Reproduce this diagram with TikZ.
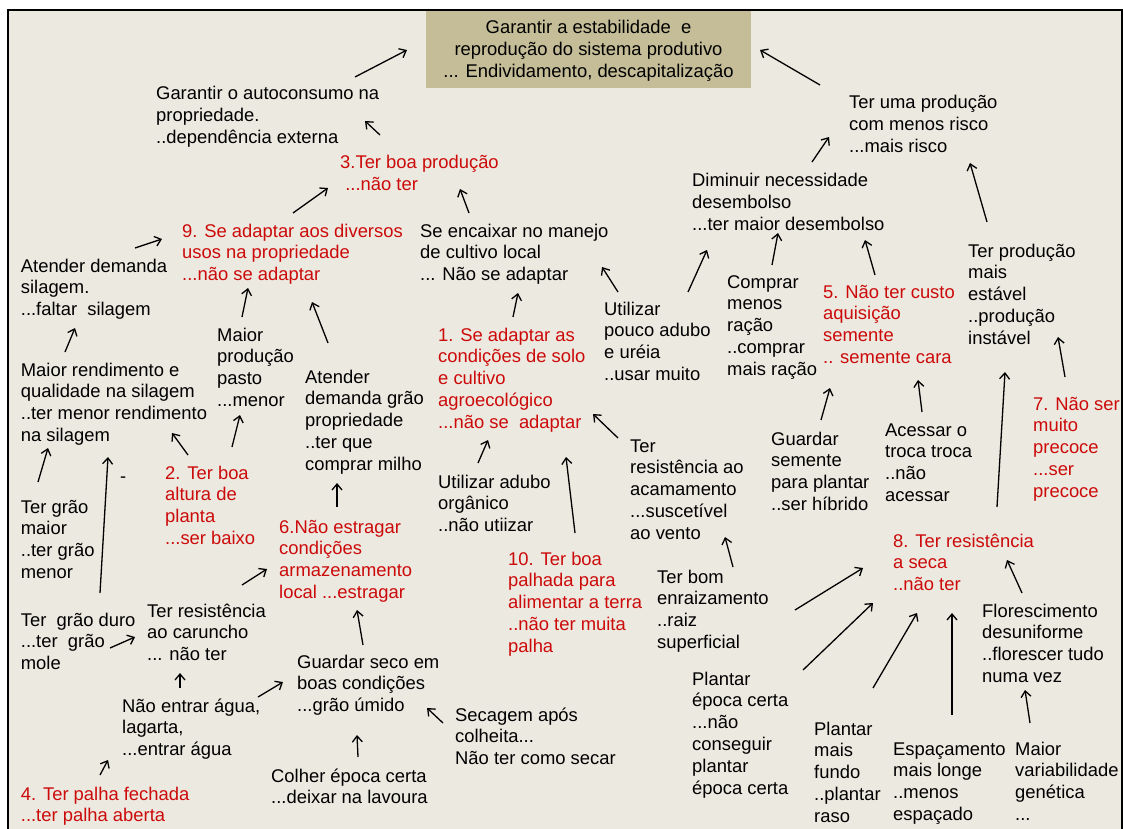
\documentclass[tikz,border=0pt]{standalone}
\usepackage{fontspec}
\setmainfont{Liberation Sans}
\usetikzlibrary{arrows.meta}
\definecolor{bgc}{RGB}{236,233,224}
\definecolor{boxc}{RGB}{196,189,151}
\definecolor{redc}{RGB}{204,10,10}
\newcommand\tstrut{\rule{0pt}{15.8pt}}
\newcommand\fs{\fontsize{18.4}{21.8}\selectfont}
\begin{document}
\begin{tikzpicture}[x=1pt,y=-1pt,
 lb/.style={anchor=north west, inner sep=0pt, align=left, font=\fs},
 rd/.style={lb, text=redc},
 arr/.style={line width=1.3pt, -{Straight Barb[length=6pt,width=10pt]}}]
\useasboundingbox (0,0) rectangle (1124,829);
\fill[white] (0,0) rectangle (1124,829);
\fill[bgc] (7.5,10) rectangle (1122,829);
\draw[line width=2pt] (7.5,829) -- (7.5,10) -- (1122,10) -- (1122,829);

\node[fill=boxc, minimum width=325pt, minimum height=77pt, inner sep=0pt, align=center, font=\fs] (T) at (588.5,49.5)
 {\rule{0pt}{16pt}Garantir a estabilidade\ \ e\\reprodução do sistema produtivo\\... Endividamento, descapitalização};

\node[lb] (A1) at (156,83.5) {\tstrut Garantir o autoconsumo na\\propriedade.\\..dependência externa};
\node[rd] (A3) at (340,153) {\tstrut 3.Ter boa produção\\\ ...não ter};
\node[rd] (A9) at (182,221) {\tstrut 9. Se adaptar aos diversos\\usos na propriedade\\...não se adaptar};
\node[lb] (Asil) at (20.7,256) {\tstrut Atender demanda\\silagem.\\...faltar\ \ silagem};
\node[lb] (Aenc) at (420,221) {\tstrut Se encaixar no manejo\\de cultivo local\\... Não se adaptar};
\node[lb] (Adim) at (692,171) {\tstrut Diminuir necessidade\\desembolso\\...ter maior desembolso};
\node[lb] (Arisco) at (849,93) {\tstrut Ter uma produção\\com menos risco\\...mais risco};
\node[lb] (Aest) at (968,241) {\tstrut Ter produção\\mais\\estável\\..produção\\instável};
\node[lb] (Arend) at (20.7,360) {\tstrut Maior rendimento e\\qualidade na silagem\\..ter menor rendimento\\na silagem};
\node[lb] (Apasto) at (217,325) {\tstrut Maior\\produção\\pasto\\...menor};
\node[lb] (Agrao) at (305,367) {\tstrut Atender\\demanda grão\\propriedade\\..ter que\\comprar milho};
\node[rd] (A1n) at (438,325) {\tstrut 1. Se adaptar as\\condições de solo\\e cultivo\\agroecológico\\...não se\ \ adaptar};
\node[lb] (Apouco) at (604,299) {\tstrut Utilizar\\pouco adubo\\e uréia\\..usar muito};
\node[lb] (Acomp) at (727,272) {\tstrut Comprar\\menos\\ração\\..comprar\\mais ração};
\node[rd] (A5) at (823,282) {\tstrut 5. Não ter custo\\aquisição\\semente\\.. semente cara};
\node[rd] (A2) at (165,463) {\tstrut 2. Ter boa\\altura de\\planta\\...ser baixo};
\node[lb] (Agmaior) at (20.7,497) {\tstrut Ter grão\\maior\\..ter grão\\menor};
\node[lb] (Adash) at (120,466.5) {\tstrut -};
\node[rd] (A6) at (279,517) {\tstrut 6.Não estragar\\condições\\armazenamento\\local ...estragar};
\node[lb] (Aorg) at (438,472) {\tstrut Utilizar adubo\\orgânico\\..não utiizar};
\node[lb] (Aacam) at (630,436) {\tstrut Ter\\resistência ao\\acamamento\\...suscetível\\ao vento};
\node[lb] (Aguard) at (771,429) {\tstrut Guardar\\semente\\para plantar\\..ser híbrido};
\node[lb] (Atroca) at (885,420) {\tstrut Acessar o\\troca troca\\..não\\acessar};
\node[rd] (A7) at (1033,394) {\tstrut 7. Não ser\\muito\\precoce\\...ser\\precoce};
\node[rd] (A8) at (893,531) {\tstrut 8. Ter resistência\\a seca\\..não ter};
\node[lb] (Aduro) at (20.7,610) {\tstrut Ter\ \ grão duro\\...ter\ \ grão\\mole};
\node[lb] (Acar) at (147,601) {\tstrut Ter resistência\\ao caruncho\\... não ter};
\node[lb] (Aagua) at (122,696) {\tstrut Não entrar água,\\lagarta,\\...entrar água};
\node[lb] (Aseco) at (297,652) {\tstrut Guardar seco em\\boas condições\\...grão úmido};
\node[lb] (Acolher) at (271,766) {\tstrut Colher época certa\\...deixar na lavoura};
\node[rd] (A4) at (20.7,784) {\tstrut 4. Ter palha fechada\\...ter palha aberta};
\node[rd] (A10) at (508,549) {\tstrut 10. Ter boa\\palhada para\\alimentar a terra\\..não ter muita\\palha};
\node[lb] (Abom) at (657,567) {\tstrut Ter bom\\enraizamento\\..raiz\\superficial};
\node[lb] (Asecagem) at (455,705) {\tstrut Secagem após\\colheita...\\Não ter como secar};
\node[lb] (Aepoca) at (692,669) {\tstrut Plantar\\época certa\\...não\\conseguir\\plantar\\época certa};
\node[lb] (Aflor) at (982,601) {\tstrut Florescimento\\desuniforme\\..florescer tudo\\numa vez};
\node[lb] (Afundo) at (814,719) {\tstrut Plantar\\mais\\fundo\\..plantar\\raso};
\node[lb] (Aesp) at (893,739) {\tstrut Espaçamento\\mais longe\\..menos\\espaçado};
\node[lb] (Avar) at (1015,739) {\tstrut Maior\\variabilidade\\genética\\...};

\draw[arr] ([shift={(355-156,77-83.5)}]A1.north west) -- ([shift={(407-588.5,50-49.5)}]T.center);
\draw[arr] ([shift={(380-340,135-153)}]A3.north west) -- ([shift={(365-156,121-83.5)}]A1.north west);
\draw[arr] ([shift={(293-182,213-221)}]A9.north west) -- ([shift={(328-340,188-153)}]A3.north west);
\draw[arr] ([shift={(135-20.7,248-256)}]Asil.north west) -- ([shift={(162-182,239-221)}]A9.north west);
\draw[arr] ([shift={(469-420,213-221)}]Aenc.north west) -- ([shift={(460-340,189-153)}]A3.north west);
\draw[arr] ([shift={(618-604,292-299)}]Apouco.north west) -- ([shift={(602-420,267-221)}]Aenc.north west);
\draw[arr] ([shift={(688-604,292-299)}]Apouco.north west) -- ([shift={(707-692,250-171)}]Adim.north west);
\draw[arr] ([shift={(820-849,85-93)}]Arisco.north west) -- ([shift={(760-588.5,50-49.5)}]T.center);
\draw[arr] ([shift={(812-692,162-171)}]Adim.north west) -- ([shift={(829-849,137-93)}]Arisco.north west);
\draw[arr] ([shift={(987-968,222-241)}]Aest.north west) -- ([shift={(970-849,163-93)}]Arisco.north west);
\draw[arr] ([shift={(772-727,265-272)}]Acomp.north west) -- ([shift={(778-692,233-171)}]Adim.north west);
\draw[arr] ([shift={(875-823,275-282)}]A5.north west) -- ([shift={(865-692,240-171)}]Adim.north west);
\draw[arr] ([shift={(65-20.7,352-360)}]Arend.north west) -- ([shift={(75-20.7,328-256)}]Asil.north west);
\draw[arr] ([shift={(242-217,317-325)}]Apasto.north west) -- ([shift={(248-182,288-221)}]A9.north west);
\draw[arr] ([shift={(328-305,343-367)}]Agrao.north west) -- ([shift={(312-182,302-221)}]A9.north west);
\draw[arr] ([shift={(38-20.7,482-497)}]Agmaior.north west) -- ([shift={(48-20.7,448-360)}]Arend.north west);
\draw[arr] ([shift={(100-20.7,593-610)}]Aduro.north west) -- ([shift={(108-20.7,457-360)}]Arend.north west);
\draw[arr] ([shift={(188-165,455-463)}]A2.north west) -- ([shift={(172-20.7,433-360)}]Arend.north west);
\draw[arr] ([shift={(232-165,447-463)}]A2.north west) -- ([shift={(240-217,415-325)}]Apasto.north west);
\draw[arr] ([shift={(337-279,507-517)}]A6.north west) -- ([shift={(337-305,483-367)}]Agrao.north west);
\draw[arr] ([shift={(513-438,317-325)}]A1n.north west) -- ([shift={(518-420,293-221)}]Aenc.north west);
\draw[arr] ([shift={(618-630,438-436)}]Aacam.north west) -- ([shift={(593-438,414-325)}]A1n.north west);
\draw[arr] ([shift={(478-438,463-472)}]Aorg.north west) -- ([shift={(488-438,440-325)}]A1n.north west);
\draw[arr] ([shift={(575-508,533-549)}]A10.north west) -- ([shift={(566-438,457-325)}]A1n.north west);
\draw[arr] ([shift={(733-657,567-567)}]Abom.north west) -- ([shift={(725-630,537-436)}]Aacam.north west);
\draw[arr] ([shift={(821-771,420-429)}]Aguard.north west) -- ([shift={(830-823,388-282)}]A5.north west);
\draw[arr] ([shift={(922-885,412-420)}]Atroca.north west) -- ([shift={(918-823,380-282)}]A5.north west);
\draw[arr] ([shift={(997-893,507-531)}]A8.north west) -- ([shift={(1005-968,372-241)}]Aest.north west);
\draw[arr] ([shift={(1065-1033,377-394)}]A7.north west) -- ([shift={(1058-968,337-241)}]Aest.north west);
\draw[arr] ([shift={(242-147,585-601)}]Acar.north west) -- ([shift={(267-279,569-517)}]A6.north west);
\draw[arr] ([shift={(110-20.7,648-610)}]Aduro.north west) -- ([shift={(135-147,637-601)}]Acar.north west);
\draw[arr] ([shift={(180-122,688-696)}]Aagua.north west) -- ([shift={(180-147,673-601)}]Acar.north west);
\draw[arr] ([shift={(258-122,697-696)}]Aagua.north west) -- ([shift={(283-297,682-652)}]Aseco.north west);
\draw[arr] ([shift={(363-297,645-652)}]Aseco.north west) -- ([shift={(357-279,610-517)}]A6.north west);
\draw[arr] ([shift={(358-271,757-766)}]Acolher.north west) -- ([shift={(357-297,735-652)}]Aseco.north west);
\draw[arr] ([shift={(100-20.7,775-784)}]A4.north west) -- ([shift={(108-122,760-696)}]Aagua.north west);
\draw[arr] ([shift={(795-657,610-567)}]Abom.north west) -- ([shift={(863-893,568-531)}]A8.north west);
\draw[arr] ([shift={(803-692,670-669)}]Aepoca.north west) -- ([shift={(873-893,603-531)}]A8.north west);
\draw[arr] ([shift={(873-814,688-719)}]Afundo.north west) -- ([shift={(917-893,613-531)}]A8.north west);
\draw[arr] ([shift={(952-893,715-739)}]Aesp.north west) -- ([shift={(952-893,613-531)}]A8.north west);
\draw[arr] ([shift={(1022-982,593-601)}]Aflor.north west) -- ([shift={(1007-893,560-531)}]A8.north west);
\draw[arr] ([shift={(1030-1015,723-739)}]Avar.north west) -- ([shift={(1025-982,690-601)}]Aflor.north west);
\draw[arr] ([shift={(443-455,723-705)}]Asecagem.north west) -- ([shift={(427-297,708-652)}]Aseco.north west);
\end{tikzpicture}
\end{document}
